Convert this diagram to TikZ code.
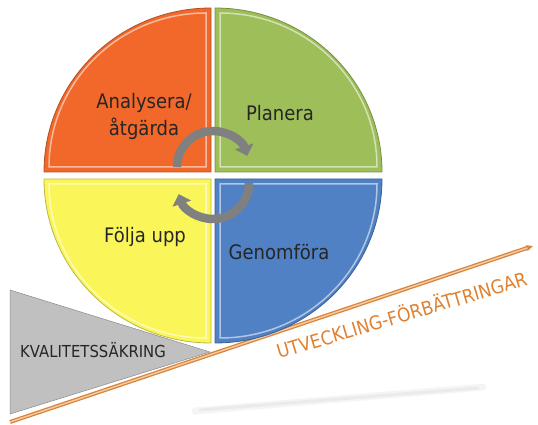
\documentclass[tikz,border=0pt]{standalone}
\usepackage{fontspec}
\usepackage{tikz}
\usetikzlibrary{positioning}
\usetikzlibrary{arrows.meta}
\newfontfamily\diagfont[FakeStretch=0.9]{DejaVu Sans}
\definecolor{orangeq}{RGB}{242,104,43}
\definecolor{greenq}{RGB}{158,190,90}
\definecolor{yellowq}{RGB}{250,246,90}
\definecolor{blueq}{RGB}{79,129,196}
\definecolor{arrowgray}{RGB}{128,128,128}
\definecolor{trigray}{RGB}{192,192,192}
\definecolor{lineorange}{RGB}{214,132,62}
\definecolor{lightorange}{RGB}{248,204,156}
\definecolor{textorange}{RGB}{224,128,48}
\tikzset{% quadrants and labels
        quad/.style={draw=#1!75!black, line width=0.8pt, fill=#1},
        bevel/.style={draw=#1!45!white, line width=1.5pt},
        label/.style={font=\diagfont\fontsize{20}{27}\selectfont, text=black!85, align=center, inner sep=0pt},
        cycle arrow/.style={draw=arrowgray, line width=8.5pt, -{Triangle[width=19pt,length=10pt]}}
        }

\begin{document}
\begin{tikzpicture}[x=1pt, y=1pt]
\useasboundingbox (0,0) rectangle (538,425);

\draw[black!4, line width=7pt, line cap=round] (195,14) -- (483,38);
\draw[black!8, line width=3pt, line cap=round] (200,15) -- (478,37);

\filldraw[fill=trigray, draw=black!45, line width=0.5pt] (10,135) -- (10,11) -- (210,73) -- cycle;

\coordinate (lineStart) at (10,3);
\coordinate (lineEnd) at (533,179);
\draw[lineorange, line width=4pt, -{Stealth[length=7pt,width=6pt]}] (lineStart) -- (lineEnd);
\draw[lightorange, line width=1.4pt, shorten >=6pt] (lineStart) -- (lineEnd);

\filldraw[quad=orangeq] (211,253) -- (44,253) arc[start angle=180, end angle=90, x radius=167, y radius=164] -- cycle;
\draw[bevel=orangeq] (206,258) -- (49,258) arc[start angle=180, end angle=90, x radius=157, y radius=154] -- cycle;
\filldraw[quad=greenq] (215,253) -- (215,417) arc[start angle=90, end angle=0, x radius=167, y radius=164] -- cycle;
\draw[bevel=greenq] (220,258) -- (220,412) arc[start angle=90, end angle=0, x radius=157, y radius=154] -- cycle;
\filldraw[quad=yellowq] (211,246) -- (44,246) arc[start angle=180, end angle=270, x radius=167, y radius=164] -- cycle;
\draw[bevel=yellowq] (206,241) -- (49,241) arc[start angle=180, end angle=270, x radius=157, y radius=154] -- cycle;
\filldraw[quad=blueq] (215,246) -- (382,246) arc[start angle=0, end angle=-90, x radius=167, y radius=164] -- cycle;
\draw[bevel=blueq] (220,241) -- (377,241) arc[start angle=0, end angle=-90, x radius=157, y radius=154] -- cycle;

\draw[cycle arrow] (177,258) arc[start angle=180, end angle=18, radius=36];
\draw[cycle arrow] (249,242) arc[start angle=0, end angle=-162, radius=36];

\node[label] (analysera) at (144,309) {Analysera/\\åtgärda};
\node[label, anchor=base] (planera) at (280,304) {Planera};
\node[label, anchor=base] (folja) at (145,182) {Följa upp};
\node[label, anchor=base] (genomfora) at (279,165) {Genomföra};
\node[label, font=\diagfont\fontsize{16.5}{20}\selectfont, anchor=base west] (kvalitet) at (20,67) {KVALITETSSÄKRING};
\node[label, font=\diagfont\fontsize{19}{23}\selectfont, text=textorange, anchor=base west, rotate=16.5] (utveckling) at (279,66) {UTVECKLING-FÖRBÄTTRINGAR};
\end{tikzpicture}
\end{document}
